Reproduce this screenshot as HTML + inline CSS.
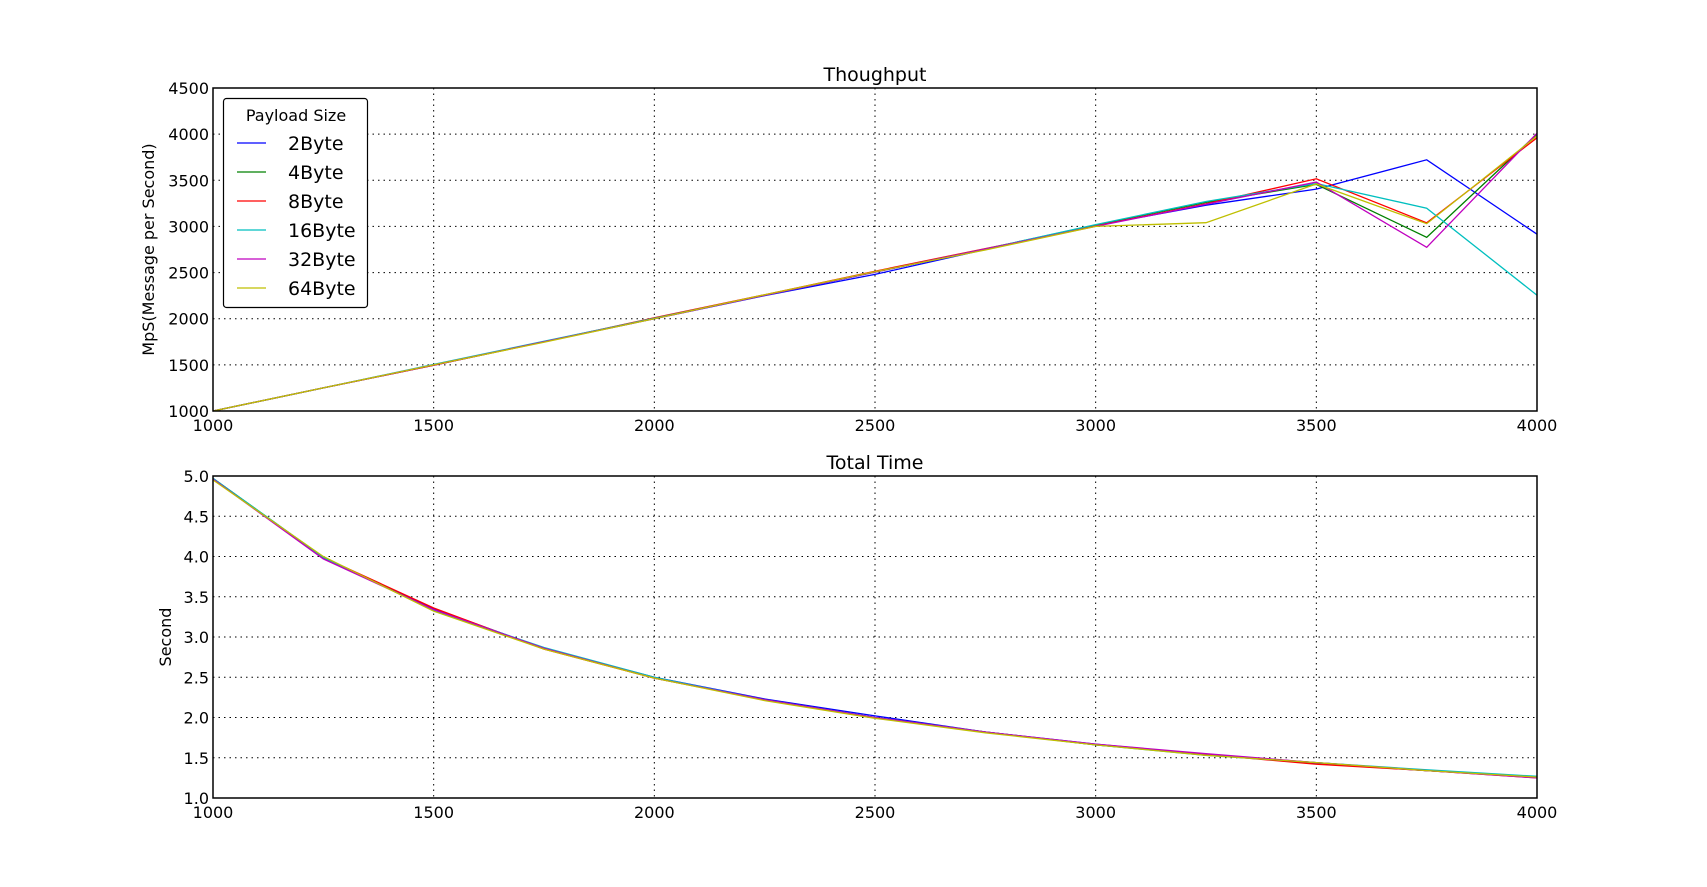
<!DOCTYPE html>
<html><head><meta charset="utf-8"><style>
html,body{margin:0;padding:0;background:#fff}
svg{display:block;font-family:"DejaVu Sans","Liberation Sans",sans-serif}
</style></head><body>
<svg id="fig" width="1707" height="887" xmlns="http://www.w3.org/2000/svg"></svg>
<script>
const xCats=[1000,1250,1500,1750,2000,2250,2500,2750,3000,3250,3500,3750,4000];
const seriesNames=["2Byte","4Byte","8Byte","16Byte","32Byte","64Byte"];
const seriesColors=["#0000ff","#008000","#ff0000","#00bfbf","#bf00bf","#bfbf00"];
const mps2=[1000,1250,1495,1750,2000,2250,2480,2750,3010,3230,3405,3722,2916];
const mps4=[1000,1250,1500,1750,2005,2255,2505,2755,3015,3260,3455,2882,4000];
const mps8=[1000,1250,1495,1750,2010,2260,2515,2760,3005,3245,3516,3039,3960];
const mps16=[1000,1250,1505,1755,2005,2255,2505,2755,3020,3270,3465,3198,2255];
const mps32=[1000,1250,1500,1750,2000,2255,2505,2755,3000,3240,3480,2774,4010];
const mps64=[1000,1250,1500,1745,2000,2260,2510,2745,3000,3040,3460,3030,3980];
const t2=[4.97,3.98,3.35,2.86,2.50,2.23,2.02,1.82,1.67,1.54,1.43,1.34,1.26];
const t4=[4.97,3.99,3.33,2.86,2.49,2.22,2.00,1.82,1.66,1.54,1.44,1.34,1.26];
const t8=[4.96,3.99,3.36,2.85,2.49,2.22,2.00,1.82,1.66,1.54,1.42,1.34,1.25];
const t16=[4.97,3.99,3.33,2.87,2.50,2.22,2.00,1.82,1.66,1.53,1.44,1.35,1.27];
const t32=[4.96,3.97,3.34,2.86,2.49,2.22,2.00,1.82,1.67,1.55,1.44,1.34,1.25];
const t64=[4.95,4.00,3.32,2.85,2.49,2.21,1.99,1.81,1.66,1.53,1.44,1.34,1.26];
const xTicks=[1000,1500,2000,2500,3000,3500,4000];
const yTicksTop=[1000,1500,2000,2500,3000,3500,4000,4500];
const yTicksBot=[1.0,1.5,2.0,2.5,3.0,3.5,4.0,4.5,5.0];
const topData=[mps2,mps4,mps8,mps16,mps32,mps64];
const botData=[t2,t4,t8,t16,t32,t64];

const NS="http://www.w3.org/2000/svg";
const svg=document.getElementById('fig');
function mk(tag,attrs,parent){const e=document.createElementNS(NS,tag);for(const k in attrs)e.setAttribute(k,attrs[k]);(parent||svg).appendChild(e);return e;}
const L=213,R=1537;
const xs=v=>L+(v-1000)/3000*(R-L);

function panel(top,bottom,ymin,ymax,yTicks,fmt,data,title,ylabel,ylabelX,key){
  const ys=v=>bottom-(v-ymin)/(ymax-ymin)*(bottom-top);
  const g=mk('g',{});
  
  
  xTicks.forEach(t=>{
    const x=xs(t);
    if(t>1000&&t<4000){const l=mk('line',{x1:x,x2:x,y1:top,y2:bottom,stroke:'#000','stroke-width':1,'stroke-dasharray':'1.5,4'},g);
      }
    const tx=mk('text',{x:x,y:bottom+20,'font-size':16,'text-anchor':'middle'},g);
    tx.textContent=t;
    
  });
  yTicks.forEach(t=>{
    const y=ys(t);
    if(t>ymin&&t<ymax){const l=mk('line',{x1:L,x2:R,y1:y,y2:y,stroke:'#000','stroke-width':1,'stroke-dasharray':'1.5,4'},g);
      }
    const tx=mk('text',{x:L-4,y:y+6,'font-size':16,'text-anchor':'end'},g);
    tx.textContent=fmt(t);
    
  });
  data.forEach((arr,i)=>{
    const pts=arr.map((v,j)=>xs(xCats[j]).toFixed(1)+','+ys(v).toFixed(1)).join(' ');
    const p=mk('polyline',{points:pts,fill:'none',stroke:seriesColors[i],'stroke-width':1.3},g);
    
    
  });
  const fr=mk('rect',{x:L,y:top,width:R-L,height:bottom-top,fill:'none',stroke:'#000','stroke-width':1.5},g);
  
  const tt=mk('text',{x:(L+R)/2,y:top-7,'font-size':19,'text-anchor':'middle'},g);
  tt.textContent=title;
  
  const cy=(top+bottom)/2;
  const yl=mk('text',{x:ylabelX,y:cy,'font-size':16,'text-anchor':'middle',transform:`rotate(-90 ${ylabelX} ${cy})`},g);
  yl.textContent=ylabel;
  
}
panel(88,411,1000,4500,yTicksTop,v=>v,topData,'Thoughput','MpS(Message per Second)',154,'throughput');
panel(476,798,1.0,5.0,yTicksBot,v=>v.toFixed(1),botData,'Total Time','Second',171,'total-time');

const lg=mk('g',{});


mk('rect',{x:223.5,y:98.5,width:144,height:209,rx:3,fill:'#fff',stroke:'#000','stroke-width':1.2},lg);
const lt=mk('text',{x:296,y:121,'font-size':16,'text-anchor':'middle'},lg);
lt.textContent='Payload Size';


seriesNames.forEach((n,i)=>{
  const y=143+i*29;
  const e=mk('g',{},lg);
  
  
  mk('line',{x1:237,x2:266,y1:y,y2:y,stroke:seriesColors[i],'stroke-width':1.3},e);
  const t=mk('text',{x:288,y:y+7,'font-size':19},e);
  t.textContent=n;
});
</script>
</body></html>
